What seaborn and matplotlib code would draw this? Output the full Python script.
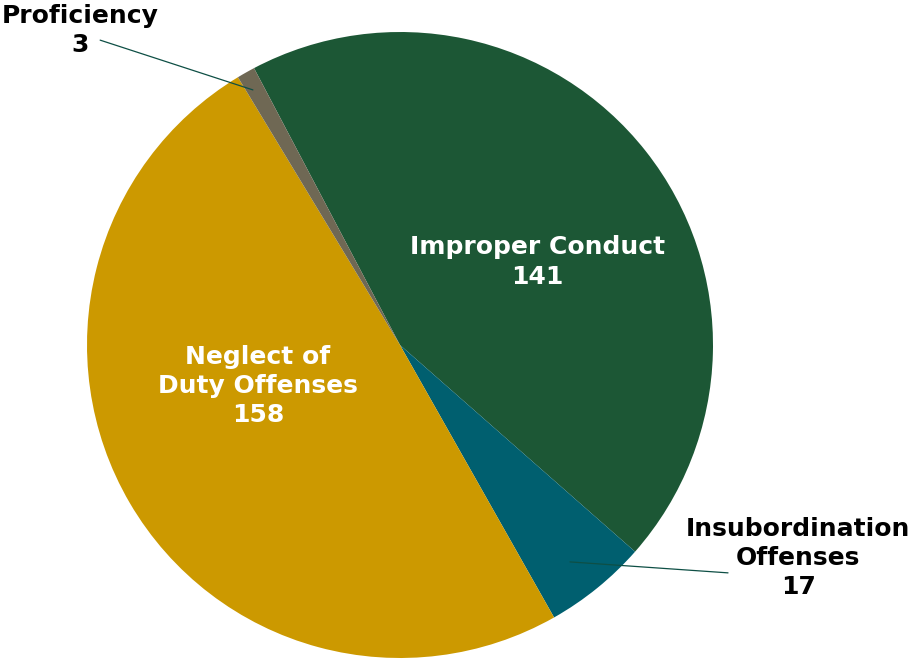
import matplotlib
matplotlib.use("Agg")
import matplotlib.pyplot as plt
import seaborn as sns

categories = ['Improper Conduct', 'Insubordination\nOffenses', 'Neglect of\nDuty Offenses', 'Proficiency']
counts = [141, 17, 158, 3]
colors = ['#1C5735', '#005F6F', '#CC9900', '#6F6854']

sns.set_theme(style="white")
plt.rcParams['font.family'] = ['DejaVu Sans']

fig = plt.figure(figsize=(9.1, 6.59), dpi=100)
# pie centred at (400, 345) px, radius 313 px
ax = fig.add_axes([87 / 910, 1 / 659, 626 / 910, 626 / 659])

palette = sns.color_palette(colors)
wedges, _ = ax.pie(counts, colors=palette, startangle=117.8, counterclock=False,
                   radius=1, wedgeprops=dict(linewidth=0))
ax.set_xlim(-1, 1)
ax.set_ylim(-1, 1)
ax.set_aspect('equal')
ax.axis('off')

# labels inside
inside = {0: (0.438, 0.265), 2: (-0.454, -0.131)}
for i, (x, y) in inside.items():
    ax.text(x, y, f'{categories[i]}\n{counts[i]}', ha='center', va='center', color='white',
            fontsize=18, fontweight='bold', linespacing=1.27)

# labels outside with leader lines
outside = {3: ((-1.022, 1.006), (-0.958, 0.974), (-0.47, 0.815)),
           1: ((1.272, -0.681), (1.048, -0.728), (0.543, -0.693))}
for i, (pos, p0, p1) in outside.items():
    ax.text(pos[0], pos[1], f'{categories[i]}\n{counts[i]}', ha='center', va='center', color='black',
            fontsize=18, fontweight='bold', linespacing=1.27, clip_on=False)
    ax.plot([p0[0], p1[0]], [p0[1], p1[1]], color='#0E4F45', linewidth=0.9, clip_on=False)

fig.savefig('out.png', dpi=100, facecolor='white')
